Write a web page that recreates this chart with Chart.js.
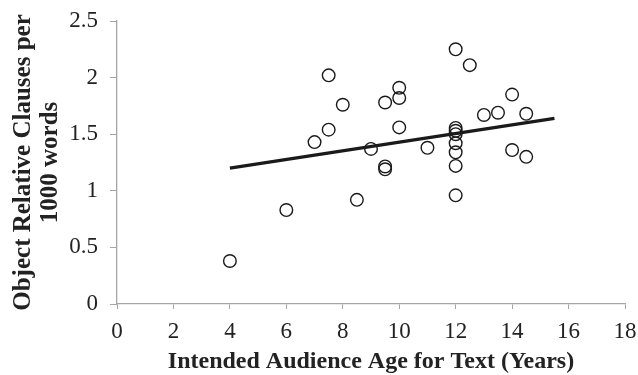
<!DOCTYPE html>
<html>
<head>
<meta charset="utf-8">
<script src="https://cdn.jsdelivr.net/npm/chart.js@4/dist/chart.umd.min.js"></script>
<style>
  html, body { margin: 0; padding: 0; background: #fff; }
  #wrap { width: 638px; height: 375px; }
</style>
</head>
<body>
<div id="wrap"><canvas id="myChart" width="638" height="375"></canvas></div>
<script>
// audience age (years) and object relative clauses per 1000 words
const ages = [4, 6, 7, 7.5, 7.5, 8, 8.5, 9, 9.5, 9.5, 9.5, 10, 10, 10, 11,
    12, 12, 12, 12, 12, 12, 12, 12, 12.5, 13, 13.5, 14, 14, 14.5, 14.5];
const clauses = [0.38, 0.83, 1.43, 2.02, 1.54, 1.76, 0.92, 1.37, 1.78, 1.215, 1.19, 1.91, 1.82, 1.56, 1.38,
    2.25, 1.555, 1.53, 1.50, 1.42, 1.34, 1.22, 0.96, 2.11, 1.67, 1.69, 1.85, 1.36, 1.68, 1.30];

// linear trend line end points
const trendX = [4, 15.5];
const trendY = [1.20, 1.64];

const xTicks = [0, 2, 4, 6, 8, 10, 12, 14, 16, 18];
const yTicks = [0, 0.5, 1, 1.5, 2, 2.5];

const points = ages.map((a, i) => ({ x: a, y: clauses[i] }));
const trend = trendX.map((a, i) => ({ x: a, y: trendY[i] }));

const axisGray = '#a6a6a6';
const serif = "'Liberation Serif', 'Times New Roman', serif";

const ctx = document.getElementById('myChart').getContext('2d');
const myChart = new Chart(ctx, {
    type: 'scatter',
    data: {
        datasets: [{
            type: 'line',
            data: trend,
            borderColor: '#1a1a1a',
            borderWidth: 3.2,
            pointRadius: 0,
            fill: false
        }, {
            data: points,
            pointRadius: 6.3,
            pointBorderWidth: 1.4,
            pointBorderColor: '#1a1a1a',
            pointBackgroundColor: 'rgba(0,0,0,0)'
        }]
    },
    options: {
        responsive: false,
        animation: false,
        layout: { padding: { top: 21, right: 0, left: 10, bottom: 0 } },
        plugins: {
            legend: { display: false },
            tooltip: { enabled: false }
        },
        scales: {
            x: {
                type: 'linear',
                min: 0,
                max: 18,
                afterBuildTicks: axis => { axis.ticks = xTicks.map(v => ({ value: v })); },
                afterFit: axis => { axis.height = 71; axis.paddingRight = 13; },
                ticks: { color: '#222', font: { family: serif, size: 23 }, padding: 9, maxRotation: 0 },
                grid: { drawOnChartArea: false, color: axisGray, tickLength: 5 },
                border: { color: axisGray, width: 1.3 },
                title: {
                    display: true,
                    text: 'Intended Audience Age for Text (Years)',
                    color: '#222',
                    font: { family: serif, size: 24, weight: 'bold', lineHeight: 1.1 },
                    padding: { top: 0, bottom: 0 }
                }
            },
            y: {
                type: 'linear',
                min: 0,
                max: 2.5,
                afterBuildTicks: axis => { axis.ticks = yTicks.map(v => ({ value: v })); },
                afterFit: axis => { axis.width = 107; axis.paddingTop = 0; },
                ticks: {
                    color: '#222',
                    font: { family: serif, size: 23 },
                    padding: 12,
                    callback: v => String(v)
                },
                grid: { drawOnChartArea: false, color: axisGray, tickLength: 7 },
                border: { color: axisGray, width: 1.3 },
                title: {
                    display: true,
                    text: ['Object Relative Clauses per', '1000 words'],
                    color: '#222',
                    font: { family: serif, size: 25, weight: 'bold', lineHeight: 1.08 },
                    padding: { top: 0, bottom: 4 }
                }
            }
        }
    }
});
</script>
</body>
</html>
